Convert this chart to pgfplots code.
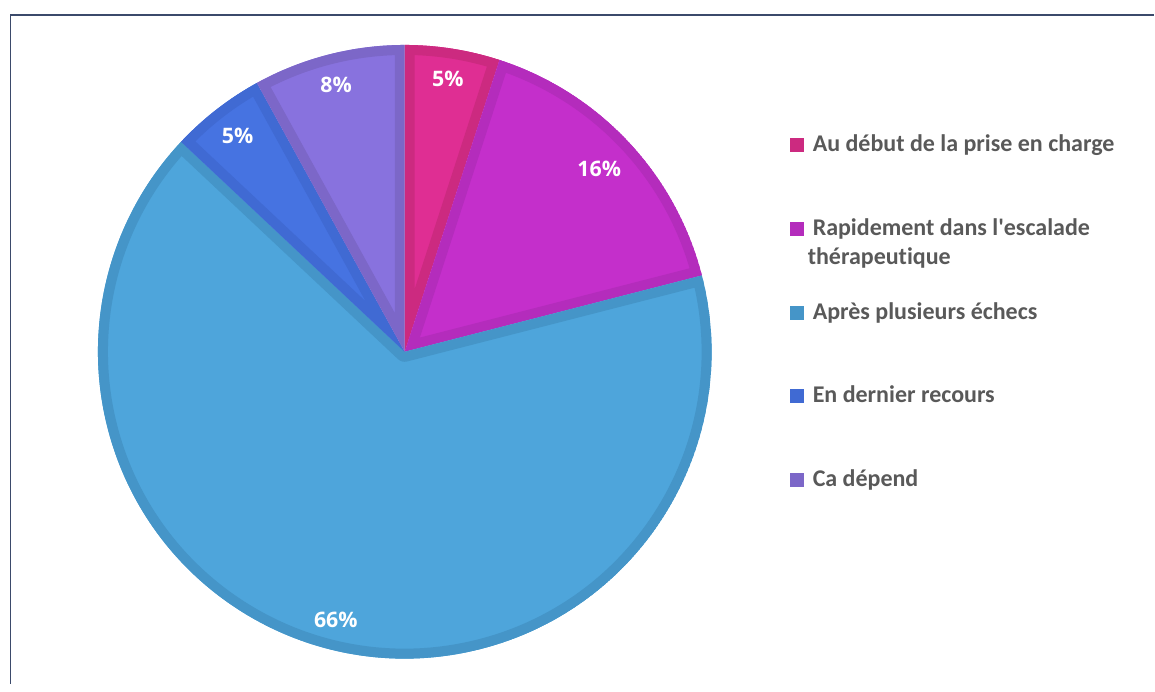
\documentclass[border=0pt]{standalone}
\usepackage{pgfplots}
\pgfplotsset{compat=1.18}
\usepackage{pgfplotstable}
\usepackage{fontspec}
\setmainfont{Carlito}
\newfontfamily\legfont{Carlito}[Ligatures=NoCommon]
\newfontfamily\labfont{Open Sans}

\definecolor{c0}{HTML}{DF2E93} \definecolor{d0}{HTML}{CC2A80}
\definecolor{c1}{HTML}{C42FCB} \definecolor{d1}{HTML}{B42CBC}
\definecolor{c2}{HTML}{4EA5DB} \definecolor{d2}{HTML}{4595C8}
\definecolor{c3}{HTML}{4673E1} \definecolor{d3}{HTML}{406AD3}
\definecolor{c4}{HTML}{8872DE} \definecolor{d4}{HTML}{7C67C8}
\definecolor{legtext}{HTML}{595959}
\definecolor{framecol}{HTML}{3B4A6B}

% value = percentage, labr = label distance from centre (px)
\pgfplotstableread{
idx value labr
0 5  276
1 16 267
2 66 277.5
3 5  273
4 8  276
}\piedata

\xdef\piecum{90}
\foreach \i in {0,...,4}{%
  \pgfplotstablegetelem{\i}{value}\of\piedata
  \pgfmathsetmacro\piestart{\piecum}%
  \pgfmathsetmacro\pieend{\piecum-3.6*\pgfplotsretval}%
  \pgfmathsetmacro\piemid{(\piestart+\pieend)/2}%
  \expandafter\xdef\csname pieS\i\endcsname{\piestart}%
  \expandafter\xdef\csname pieE\i\endcsname{\pieend}%
  \expandafter\xdef\csname pieM\i\endcsname{\piemid}%
  \expandafter\xdef\csname pieV\i\endcsname{\pgfplotsretval}%
  \xdef\piecum{\pieend}%
  \pgfplotstablegetelem{\i}{labr}\of\piedata
  \expandafter\xdef\csname pieL\i\endcsname{\pgfplotsretval}%
}
\def\pieR{230.25pt}

\begin{document}
\begin{tikzpicture}
\begin{axis}[
  x=0.75pt, y=0.75pt,
  xmin=0, xmax=1155, ymin=0, ymax=684,
  scale only axis, hide axis, clip=false,
]
\path (axis cs:0,0) rectangle (axis cs:1155,684);
\draw[framecol, line width=1.1pt] (axis cs:10.5,0) -- (axis cs:10.5,669) -- (axis cs:1155,669);

\pgfplotsinvokeforeach{0,...,4}{
  \begin{scope}
    \clip (axis cs:405,332) -- ++(\csname pieS#1\endcsname:\pieR)
      arc[start angle=\csname pieS#1\endcsname, end angle=\csname pieE#1\endcsname, radius=\pieR] -- cycle;
    \filldraw[fill=c#1, draw=d#1, line width=15pt, line join=round]
      (axis cs:405,332) -- ++(\csname pieS#1\endcsname:\pieR)
      arc[start angle=\csname pieS#1\endcsname, end angle=\csname pieE#1\endcsname, radius=\pieR] -- cycle;
  \end{scope}
}
\pgfplotsinvokeforeach{0,...,4}{
  \path (axis cs:405,332) ++(\csname pieM#1\endcsname:\csname pieL#1\endcsname*0.75pt)
    node[text=white, font=\labfont\bfseries\fontsize{16}{19}\selectfont, inner sep=0pt] {\csname pieV#1\endcsname\%};
}

% legend
\fill[d0] (axis cs:790,532) rectangle (axis cs:804,546);
\fill[d1] (axis cs:790,448) rectangle (axis cs:804,462);
\fill[d2] (axis cs:790,364) rectangle (axis cs:804,378);
\fill[d3] (axis cs:790,281) rectangle (axis cs:804,295);
\fill[d4] (axis cs:790,197) rectangle (axis cs:804,211);
\begin{scope}[every node/.style={anchor=base west, inner sep=0pt, text=legtext, font=\legfont\bfseries\fontsize{18}{22}\selectfont}]
\node at (axis cs:813,532) {Au début de la prise en charge};
\node at (axis cs:813,448) {Rapidement dans l'escalade};
\node at (axis cs:808,419) {thérapeutique};
\node at (axis cs:813,364) {Après plusieurs échecs};
\node at (axis cs:813,281) {En dernier recours};
\node at (axis cs:813,197) {Ca dépend};
\end{scope}
\end{axis}
\end{tikzpicture}
\end{document}
